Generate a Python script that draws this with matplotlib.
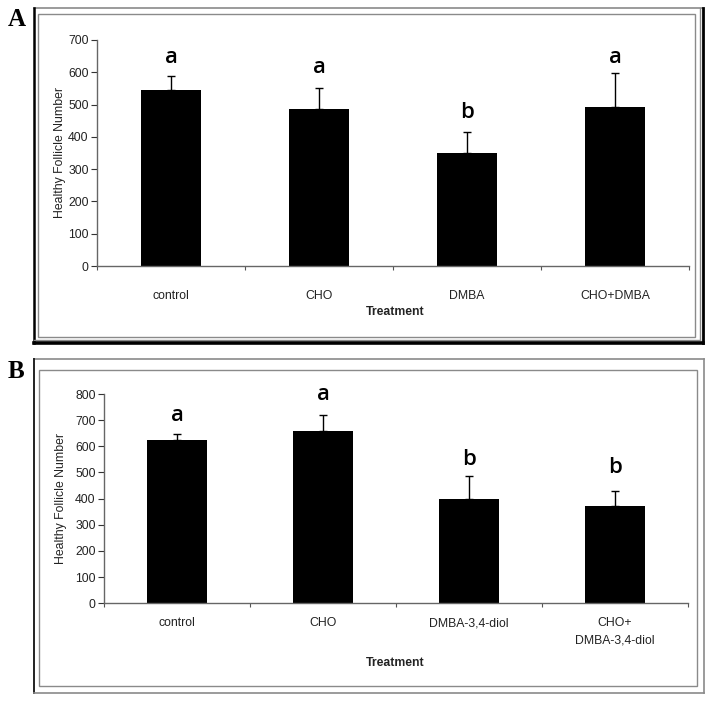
import matplotlib
matplotlib.use("Agg")
import matplotlib.pyplot as plt
from matplotlib.patches import Rectangle
from matplotlib.lines import Line2D
import matplotlib.transforms as mtransforms
import numpy as np

W, H = 714, 702

# Panel A data
cats_a = ["control", "CHO", "DMBA", "CHO+DMBA"]
vals_a = [546, 485, 349, 491]
err_a = [41, 67, 67, 106]
letters_a = ["a", "a", "b", "a"]
letter_y_a = [647, 616, 474, 647]

# Panel B data
cats_b = ["control", "CHO", "DMBA-3,4-diol", "CHO+\nDMBA-3,4-diol"]
vals_b = [624, 660, 400, 372]
err_b = [24, 58, 86, 58]
letters_b = ["a", "a", "b", "b"]
letter_y_b = [716, 800, 548, 518]

fig = plt.figure(figsize=(W / 100, H / 100), dpi=100)
fig.patch.set_facecolor("white")

GRAY = "#8a8a8a"
SANS = "Liberation Sans"


def fx(x):
    return x / W


def fy(y):
    return 1 - y / H


def rect(x0, y0, x1, y1, color, lw):
    fig.add_artist(Rectangle((fx(x0), fy(y1)), fx(x1) - fx(x0), fy(y0) - fy(y1),
                             transform=fig.transFigure, fill=False,
                             edgecolor=color, linewidth=lw))


def line(x0, y0, x1, y1, color, lw):
    fig.add_artist(Line2D([fx(x0), fx(x1)], [fy(y0), fy(y1)],
                          transform=fig.transFigure, color=color, linewidth=lw,
                          solid_capstyle="projecting"))


# Panel A frames
line(34, 8, 702, 8, GRAY, 1.2)
line(34, 8, 34, 343, "black", 1.8)
line(700, 8, 700, 340, GRAY, 1.0)
line(702.5, 8, 702.5, 343, "black", 2.0)
line(34, 340, 700, 340, GRAY, 1.0)
line(34, 343, 702.5, 343, "black", 2.6)
rect(38, 14, 695, 337, GRAY, 1.0)

# Panel B frames
line(34, 359, 704, 359, GRAY, 1.2)
line(34, 359, 34, 693, "#222222", 1.4)
line(704, 359, 704, 693, GRAY, 1.2)
line(34, 693, 704, 693, GRAY, 1.2)
rect(39, 370, 697, 686, GRAY, 1.0)

fig.text(fx(8), fy(19), "A", fontsize=18, fontweight="bold",
         family="Liberation Serif", ha="left", va="center")
fig.text(fx(8), fy(372), "B", fontsize=18, fontweight="bold",
         family="Liberation Serif", ha="left", va="center")


def panel(left, right, bottom, top, ymax, step, cats, vals, errs, letters, ly,
          xlab_y, treat_y, ylab_x):
    ax = fig.add_axes([fx(left), fy(bottom), fx(right) - fx(left), fy(top) - fy(bottom)])
    x = np.arange(len(cats))
    ax.bar(x, vals, width=0.41, color="black", zorder=2)
    ax.errorbar(x, vals, yerr=[np.zeros(len(errs)), errs], fmt="none",
                ecolor="black", elinewidth=1.0, capsize=3, capthick=1.0, zorder=3)
    for xi, l, yy in zip(x, letters, ly):
        ax.text(xi, yy, l, ha="center", va="center", fontsize=16,
                family="Open Sans", fontweight="semibold", color="black")
    ax.set_xlim(-0.5, len(cats) - 0.5)
    ax.set_ylim(0, ymax)
    ax.set_yticks(np.arange(0, ymax + 1, step))
    ax.tick_params(axis="y", labelsize=8.8, colors="#333333", length=4, width=0.8,
                   pad=2, labelcolor="#222222")
    for lab in ax.get_yticklabels():
        lab.set_family(SANS)
    ax.set_xticks(np.arange(-0.5, len(cats), 1.0), minor=True)
    ax.set_xticks(x)
    ax.set_xticklabels([])
    ax.tick_params(axis="x", which="major", length=0)
    ax.tick_params(axis="x", which="minor", length=3, width=0.8, colors="#555555")
    for sp in ["top", "right"]:
        ax.spines[sp].set_visible(False)
    for sp in ["left", "bottom"]:
        ax.spines[sp].set_color("#666666")
        ax.spines[sp].set_linewidth(1.0)
    ax.set_facecolor("none")
    tr = mtransforms.blended_transform_factory(ax.transData, fig.transFigure)
    for xi, c in zip(x, cats):
        ax.text(xi, fy(xlab_y), c, transform=tr, ha="center", va="top",
                fontsize=8.8, family=SANS, color="#222222", linespacing=1.6)
    fig.text(fx(ylab_x), fy((top + bottom) / 2), "Healthy Follicle Number",
             rotation=90, ha="center", va="center", fontsize=8.8, family=SANS,
             color="#222222")
    fig.text(fx(395), fy(treat_y), "Treatment", ha="center", va="center",
             fontsize=8.8, fontweight="bold", family=SANS, color="#222222")
    return ax


panel(97, 689, 266, 40, 700, 100, cats_a, vals_a, err_a, letters_a, letter_y_a,
      290, 312, 60)
panel(104, 688, 603.3, 394, 800, 100, cats_b, vals_b, err_b, letters_b, letter_y_b,
      617, 663, 61)

fig.savefig("out.png", dpi=100, facecolor="white")
